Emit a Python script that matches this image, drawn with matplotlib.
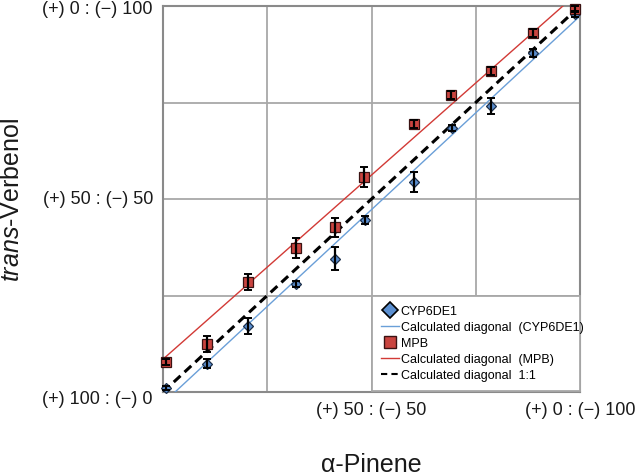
import numpy as np
import matplotlib
matplotlib.use("Agg")
import matplotlib.pyplot as plt
from matplotlib.lines import Line2D

plt.rcParams['font.family'] = ['Liberation Sans', 'DejaVu Sans']
plt.rcParams['mathtext.fontset'] = 'custom'
plt.rcParams['mathtext.rm'] = 'Liberation Sans'
plt.rcParams['mathtext.it'] = 'Liberation Sans:italic'

# measured enantiomer ratios, % (-)
cyp_x = [0.8, 10.5, 20.4, 32.0, 41.2, 48.4, 60.2, 69.3, 78.7, 88.7, 98.8]
cyp_y = [1.0, 7.3, 17.1, 28.0, 34.5, 44.6, 54.4, 68.4, 74.1, 87.8, 97.9]
cyp_err = [0.5, 1.2, 2.2, 0.8, 3.0, 1.0, 2.5, 0.8, 2.0, 1.0, 0.8]

mpb_x = [0.8, 10.5, 20.4, 32.0, 41.2, 48.2, 60.2, 69.0, 78.7, 88.7, 98.8]
mpb_y = [7.8, 12.4, 28.5, 37.3, 42.7, 55.7, 69.4, 77.0, 83.2, 93.0, 99.2]
mpb_err = [0.8, 2.0, 2.0, 2.5, 2.5, 2.5, 1.0, 1.0, 1.0, 1.0, 0.8]

# end points of the calculated diagonals
diag_cyp_x, diag_cyp_y = [2.9, 100], [0, 97.4]
diag_mpb_x, diag_mpb_y = [0, 95.9], [8.5, 100]
diag_11_x, diag_11_y = [0, 100], [0, 100]

xtick_pos = [50, 100]
xtick_labels = ["(+) 50 : (\u2212) 50", "(+) 0 : (\u2212) 100"]
ytick_pos = [0, 50, 100]
ytick_labels = ["(+) 100 : (\u2212) 0", "(+) 50 : (\u2212) 50", "(+) 0 : (\u2212) 100"]

blue = '#5b8fd0'
red = '#c9443f'
line_blue = '#6a9fd8'
line_red = '#d23a36'

fig = plt.figure(figsize=(6.4, 4.77), dpi=100)
ax = fig.add_axes([163/640, 1-393/477, 417/640, 386/477])

ax.plot(diag_cyp_x, diag_cyp_y, color=line_blue, lw=1.0, zorder=3)
ax.plot(diag_mpb_x, diag_mpb_y, color=line_red, lw=1.0, zorder=3)
ax.plot(diag_11_x, diag_11_y, color='black', lw=2.2, dashes=(3, 1.8), zorder=4)

ax.plot(cyp_x, cyp_y, ls='none', marker='D', ms=5.5, mfc=blue, mec='#1c2f4a',
        mew=0.9, zorder=5, clip_on=False)
ax.plot(mpb_x, mpb_y, ls='none', marker='s', ms=6.5, mfc=red, mec='#3a1212',
        mew=0.9, zorder=5, clip_on=False)
ax.errorbar(cyp_x, cyp_y, yerr=cyp_err, fmt='none', ecolor='black', elinewidth=1.6,
            capsize=2.8, capthick=1.4, zorder=6, clip_on=False)
ax.errorbar(mpb_x, mpb_y, yerr=mpb_err, fmt='none', ecolor='black', elinewidth=1.6,
            capsize=2.8, capthick=1.4, zorder=6, clip_on=False)

ax.set_xlim(0, 100)
ax.set_ylim(0, 100)
ax.set_xticks([0, 25, 50, 75, 100])
ax.set_yticks([0, 25, 50, 75, 100])
ax.set_xticklabels([])
ax.set_yticklabels([])
ax.grid(True, color='#a8a8a8', lw=1.3)
ax.set_axisbelow(True)
ax.tick_params(length=0)
for s in ax.spines.values():
    s.set_color('#8a8a8a')
    s.set_linewidth(1.5)

# tick labels as text on the axes transforms
for p, lab in zip(xtick_pos, xtick_labels):
    ax.text(p, -0.045, lab, transform=ax.get_xaxis_transform(), ha='center', va='center',
            fontsize=13, color='#1a1a1a', clip_on=False)
for p, lab in zip(ytick_pos, ytick_labels):
    off = {0: -0.018, 50: 0.0, 100: -0.006}[p]
    ax.text(-0.024, p / 100 + off, lab, transform=ax.transAxes, ha='right', va='center',
            fontsize=13, color='#1a1a1a', clip_on=False)

fig.text(12/640, 1-200/477, r'$\mathit{trans}$-Verbenol', rotation=90, ha='center',
         va='center', fontsize=18, color='#1a1a1a')
fig.text(371/640, 1-465/477, '\u03b1-Pinene', ha='center', va='center', fontsize=18,
         color='#1a1a1a')

handles = [
    Line2D([], [], ls='none', marker='D', ms=8, mfc=blue, mec='black', mew=1.2),
    Line2D([], [], color=line_blue, lw=1.0),
    Line2D([], [], ls='none', marker='s', ms=8, mfc=red, mec='#3a1212', mew=1.0),
    Line2D([], [], color=line_red, lw=1.0),
    Line2D([], [], color='black', lw=1.5, dashes=(3, 2)),
]
labels = ["CYP6DE1", "Calculated diagonal  (CYP6DE1)", "MPB",
          "Calculated diagonal  (MPB)", "Calculated diagonal  1:1"]
leg = ax.legend(handles, labels, loc='upper left', bbox_to_anchor=(0.5, 0, 0.5, 0.25),
                mode='expand', borderaxespad=0, fontsize=9, handlelength=1.4,
                handletextpad=0.15, labelspacing=0.32, fancybox=False, framealpha=1,
                edgecolor='#a8a8a8', borderpad=0.78)
leg.get_frame().set_linewidth(1.3)
leg.set_zorder(10)

fig.savefig('out.png', dpi=100)
